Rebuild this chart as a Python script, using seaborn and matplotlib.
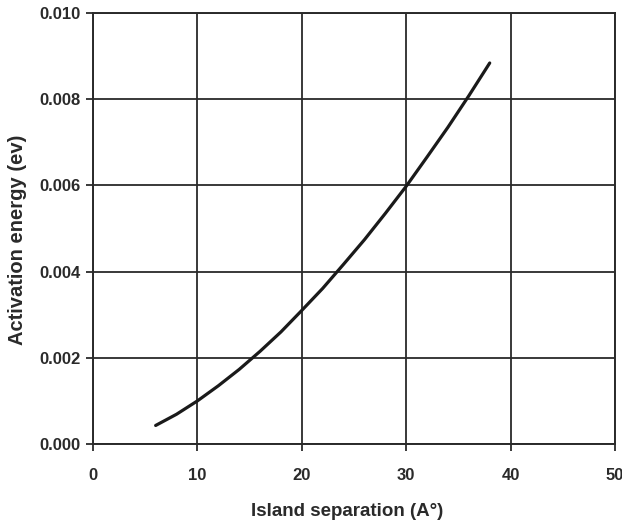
import matplotlib
matplotlib.use("Agg")
import matplotlib.pyplot as plt
import seaborn as sns
import pandas as pd

# Data
separation = [6, 8, 10, 12, 14, 16, 18, 20, 22, 24, 26, 28, 30, 32, 34, 36, 38]
energy = [0.00043, 0.00069, 0.00100, 0.00135, 0.00173, 0.00215, 0.00260, 0.00310,
          0.00361, 0.00417, 0.00474, 0.00535, 0.00598, 0.00666, 0.00735, 0.00808, 0.00884]
x_ticks = [0, 10, 20, 30, 40, 50]
y_ticks = [0.000, 0.002, 0.004, 0.006, 0.008, 0.010]
y_tick_labels = ["0.000", "0.002", "0.004", "0.006", "0.008", "0.010"]

sns.set_style("ticks")
plt.rcParams["font.family"] = ["Liberation Sans", "DejaVu Sans"]

df = pd.DataFrame({"sep": separation, "E": energy})

W, H = 622, 529
L, R, T, B = 93, 615, 13, 444
fig = plt.figure(figsize=(W / 100, H / 100), dpi=100)
ax = fig.add_axes([L / W, 1 - B / H, (R - L) / W, (B - T) / H])

sns.lineplot(data=df, x="sep", y="E", ax=ax, color="#1a1a1a", linewidth=2.3)

ax.set_xlim(0, 50)
ax.set_ylim(0, 0.010)
ax.set_xticks(x_ticks)
ax.set_yticks(y_ticks)
ax.set_yticklabels(y_tick_labels)
ax.grid(True, color="#2a2a2a", linewidth=1.3)
for s in ax.spines.values():
    s.set_color("#2a2a2a")
    s.set_linewidth(1.4)

ax.tick_params(axis="both", direction="out", length=5, width=1.3, color="#2a2a2a",
               labelsize=12, labelcolor="#2a2a2a")
ax.tick_params(axis="x", pad=12)
ax.tick_params(axis="y", pad=4)
for lbl in ax.get_xticklabels() + ax.get_yticklabels():
    lbl.set_fontweight("bold")

ax.set_xlabel("Island separation (A°)", fontsize=13.5, fontweight="bold", color="#2a2a2a")
ax.set_ylabel("Activation energy (ev)", fontsize=14.5, fontweight="bold", color="#2a2a2a")
ax.xaxis.label.set_va("center")
ax.yaxis.label.set_va("center")
ax.xaxis.set_label_coords((347 - L) / (R - L), -(511 - B) / (B - T))
ax.yaxis.set_label_coords((18 - L) / (R - L), (B - 240) / (B - T))

fig.savefig("out.png", dpi=100, facecolor="white")
